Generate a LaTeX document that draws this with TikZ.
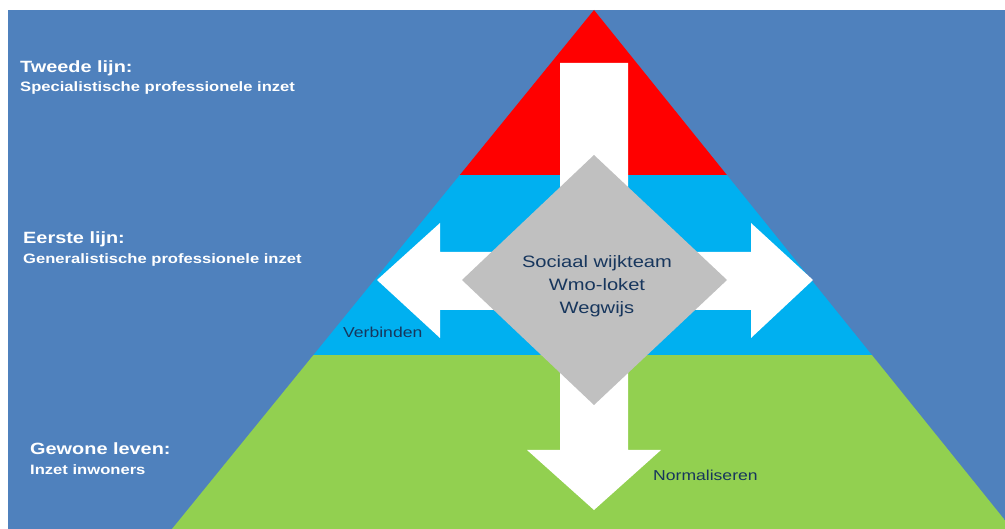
\documentclass[tikz,border=0pt]{standalone}
\usepackage{fontspec}
\setmainfont{Liberation Sans}
\newfontfamily\wideface[FakeStretch=1.22]{Liberation Sans}
\definecolor{bgblue}{HTML}{4F81BD}
\definecolor{topred}{HTML}{FF0000}
\definecolor{midcyan}{HTML}{00B0F0}
\definecolor{lowgreen}{HTML}{92D050}
\definecolor{diagray}{HTML}{C0C0C0}
\definecolor{navytext}{HTML}{17365D}
\tikzset{
  headlbl/.style={anchor=base west, inner sep=0pt, text=white, font=\wideface\bfseries\fontsize{16.3}{18}\selectfont},
  sublbl/.style={anchor=base west, inner sep=0pt, text=white, font=\wideface\bfseries\fontsize{13.6}{16}\selectfont},
  darklbl/.style={anchor=base west, inner sep=0pt, text=navytext, font=\wideface\fontsize{14.4}{17}\selectfont},
  whitearrow/.style={fill=white},
}
\begin{document}
\begin{tikzpicture}[x=1pt,y=-1pt]
\useasboundingbox (0,0) rectangle (1005,529);
\fill[white] (0,0) rectangle (1005,529);
\fill[bgblue] (8,10) rectangle (1005,529);
% pyramid
\coordinate (apex) at (594,10);
\coordinate (bl) at (172,529);
\coordinate (br) at (1012,529);
\begin{scope}
  \clip (apex) -- (bl) -- (br) -- cycle;
  \fill[lowgreen] (0,355) rectangle (1020,529);
  \fill[midcyan] (0,175) rectangle (1020,355);
  \fill[topred] (0,0) rectangle (1020,175);
\end{scope}
% horizontal double arrow
\fill[whitearrow] (377,280) -- (440,223) -- (440,252) -- (751,252) -- (751,223)
  -- (813,280) -- (751,338) -- (751,310) -- (440,310) -- (440,338) -- cycle;
% vertical arrow
\fill[whitearrow] (560,63) -- (628,63) -- (628,450) -- (661,450) -- (594,510)
  -- (527,450) -- (560,450) -- cycle;
% diamond
\fill[diagray] (594,155) -- (727,280) -- (594,405) -- (462,280) -- cycle;
\node[anchor=base, inner sep=0pt, text=navytext, font=\wideface\fontsize{16.5}{23}\selectfont, align=center] (team) at (597,314)
  {Sociaal wijkteam\\Wmo-loket\\Wegwijs};
% labels
\node[headlbl] (tw) at (20,73) {Tweede lijn:};
\node[sublbl] (tws) at (20,92) {Specialistische professionele inzet};
\node[headlbl] (ee) at (23,244) {Eerste lijn:};
\node[sublbl] (ees) at (23,264) {Generalistische professionele inzet};
\node[headlbl] (ge) at (30,455) {Gewone leven:};
\node[sublbl] (ges) at (30,475) {Inzet inwoners};
\node[darklbl] (vb) at (343,338) {Verbinden};
\node[darklbl] (nm) at (653,481) {Normaliseren};
\end{tikzpicture}
\end{document}
